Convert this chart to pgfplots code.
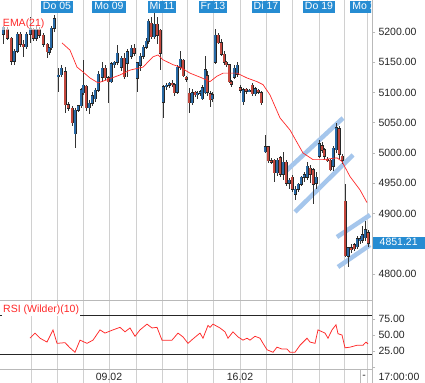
\documentclass[border=0pt]{standalone}
\usepackage{pgfplots}
\pgfplotsset{compat=1.18}
\usepackage{pgfplotstable}
\usepackage{fontspec}
\setmainfont{Liberation Sans}
\definecolor{gridc}{RGB}{208,208,208}
\definecolor{borderc}{RGB}{185,185,185}
\definecolor{lblue}{RGB}{38,140,210}
\definecolor{upc}{RGB}{40,105,165}
\definecolor{dnc}{RGB}{195,72,62}
\definecolor{chan}{RGB}{165,198,236}
\definecolor{emac}{RGB}{255,40,40}

\pgfplotstableread{
x o h l c
3 5196 5210 5180 5208
7 5205 5208 5186 5190
11 5190 5192 5145 5152
14 5152 5172 5145 5168
17 5168 5200 5165 5196
20 5196 5200 5175 5180
23 5180 5186 5158 5176
26 5176 5200 5172 5196
30 5196 5225 5182 5205
33 5205 5207 5185 5190
36 5190 5210 5186 5205
39 5205 5208 5190 5195
43 5195 5198 5175 5180
47 5180 5182 5157 5167
49 5167 5176 5162 5174
51 5174 5210 5170 5206
54 5206 5228 5200 5222
58 5127 5140 5100 5129
61 5129 5145 5125 5140
65 5134 5142 5066 5080
68 5080 5085 5070 5074
72 5074 5078 5045 5050
75 5032 5075 5009 5071
78 5071 5080 5068 5078
81 5078 5108 5075 5105
83 5100 5153 5096 5112
86 5110 5113 5070 5075
89 5075 5088 5065 5082
92 5082 5100 5078 5095
95 5090 5108 5085 5104
98 5104 5135 5100 5130
102 5125 5150 5118 5140
105 5140 5145 5120 5124
108 5124 5128 5083 5118
111 5118 5150 5115 5148
114 5146 5152 5140 5150
117 5150 5178 5145 5165
121 5142 5160 5135 5157
124 5157 5165 5122 5126
127 5148 5172 5126 5167
131 5160 5178 5155 5173
134 5173 5180 5160 5165
137 5124 5150 5100 5149
140 5145 5165 5135 5160
143 5160 5178 5155 5175
146 5175 5190 5172 5185
148 5185 5222 5180 5218
151 5215 5225 5188 5192
154 5192 5240 5188 5213
157 5213 5225 5180 5195
160 5203 5205 5137 5165
163 5084 5112 5058 5110
166 5110 5115 5105 5112
169 5112 5118 5108 5115
172 5115 5120 5110 5113
174 5113 5116 5095 5100
177 5100 5145 5098 5142
180 5142 5168 5138 5155
183 5153 5156 5125 5128
186 5125 5128 5118 5122
189 5099 5108 5066 5083
192 5083 5105 5080 5100
195 5100 5103 5092 5096
197 5096 5102 5090 5099
200 5099 5104 5094 5101
202 5090 5112 5088 5108
205 5100 5160 5098 5138
207 5128 5135 5095 5100
210 5098 5102 5076 5088
212 5090 5100 5085 5096
215 5150 5205 5148 5195
218 5195 5198 5180 5182
221 5182 5188 5160 5163
224 5163 5168 5145 5150
226 5150 5152 5142 5146
229 5146 5148 5115 5118
231 5118 5120 5110 5114
234 5125 5145 5122 5140
237 5130 5150 5125 5145
240 5108 5112 5100 5104
243 5085 5108 5080 5105
246 5105 5108 5098 5102
249 5102 5106 5100 5104
252 5112 5115 5095 5098
255 5098 5110 5095 5106
258 5104 5106 5098 5100
261 5100 5102 5080 5083
265 5002 5030 5000 5010
268 5010 5012 4984 4987
271 4987 4992 4982 4985
274 4988 4990 4952 4967
277 4967 4992 4962 4988
280 4992 4995 4960 4965
283 4965 5002 4956 4985
286 4985 4988 4945 4950
289 4950 4958 4940 4955
292 4960 4963 4935 4940
295 4932 4945 4922 4940
298 4940 4950 4935 4948
301 4948 4962 4945 4960
304 4960 4968 4952 4964
307 4960 4985 4955 4978
310 4975 4980 4950 4965
313 4972 4975 4915 4948
316 4950 4968 4940 4960
319 4995 5022 4992 5015
322 5012 5018 5000 5005
324 5005 5008 4990 4995
327 4990 4993 4985 4988
330 4988 4990 4970 4972
333 4978 5012 4970 5008
336 5005 5050 5000 5042
339 5040 5045 4990 4998
342 4995 4998 4982 4988
345 4920 4948 4828 4830
348 4829 4845 4812 4843
351 4843 4850 4835 4840
354 4848 4852 4838 4842
357 4845 4862 4842 4858
360 4855 4862 4850 4858
362 4856 4880 4852 4865
365 4860 4887 4855 4873
368 4868 4872 4845 4851
}\candles

\pgfplotstableread{
x r
30 45
35 53
40 45
47 39
53 58
57 37
65 38
70 30
75 23
80 42
87 37
93 42
100 58
105 53
113 58
120 62
125 55
130 61
135 48
140 58
147 67
152 61
157 62
162 42
172 42
178 53
183 47
188 37
193 44
200 53
203 45
208 65
210 62
213 67
220 61
225 55
228 45
233 55
238 47
243 42
247 45
250 42
255 48
260 45
263 37
267 27
273 23
277 31
282 28
287 28
290 23
295 23
300 34
307 45
310 39
315 37
318 58
325 53
328 45
332 58
336 66
338 52
342 50
345 30
350 31
357 34
363 34
366 39
368 36
}\rsi

\begin{document}
\begin{tikzpicture}[x=1bp,y=1bp,font=\fontsize{10.5bp}{12bp}\selectfont]
\path[use as bounding box] (0bp,0bp) rectangle (425bp,383bp);
\fill[white] (0bp,0bp) rectangle (425bp,383bp);
\foreach \g in {31,57,83,109,136,162,187,213,240,266,292,319,344,367}
  \draw[gridc, line width=0.8bp] (\g bp,0bp) -- (\g bp,14bp);

\pgfplotsset{
  panel/.style={
    anchor=south west, scale only axis, width=372bp,
    xmin=0, xmax=372,
    axis line style={draw=none},
    xtick={31,57,83,109,136,162,187,213,240,266,292,319,344,367},
    major x tick style={draw=none},
    xmajorgrids, grid style={gridc, line width=0.8bp},
    ytick pos=right, yticklabel pos=right,
    tick align=outside, major tick length=3bp,
    major y tick style={borderc, line width=0.8bp},
    tick label style={font=\fontsize{10.5bp}{12bp}\selectfont, text=black!85},
    clip mode=individual,
  },
  ebar/.style={draw=none, mark=none, forget plot,
    /pgfplots/error bars/y dir=both,
    /pgfplots/error bars/y explicit,
    /pgfplots/error bars/error mark=none,
    /pgfplots/error bars/error bar style={#1, solid}},
}

% ---------- main price panel ----------
\begin{axis}[panel, at={(0bp,83bp)}, height=300bp,
  ymin=4757, ymax=5252.9,
  xticklabels={},
  ytick={4800,4900,4950,5000,5050,5100,5150,5200},
  yticklabel style={/pgf/number format/.cd, fixed, fixed zerofill, precision=2, 1000 sep={}, assume math mode=true},
]
\addplot[chan, line width=4.5bp, forget plot] coordinates {(285,4968.6) (343,5057.8)};
\addplot[chan, line width=4.5bp, forget plot] coordinates {(295,4902.5) (353,4996.7)};
\addplot[chan, line width=4.5bp, forget plot] coordinates {(337,4861.1) (370,4897.5)};
\addplot[chan, line width=4.5bp, forget plot] coordinates {(338,4811.6) (370,4847.9)};

\addplot[ebar={draw=black!80, line width=0.7bp}]
  table[x=x, y expr={(\thisrow{h}+\thisrow{l})/2}, y error expr={(\thisrow{h}-\thisrow{l})/2}] {\candles};
\addplot[ebar={draw=black!85, line width=3.0bp}]
  table[x=x, y expr={(\thisrow{o}+\thisrow{c})/2}, y error expr={abs(\thisrow{c}-\thisrow{o})/2+0.8}] {\candles};
\addplot[restrict expr to domain={\thisrow{c}-\thisrow{o}}{0:1000}, ebar={draw=upc, line width=2.0bp}]
  table[x=x, y expr={(\thisrow{o}+\thisrow{c})/2}, y error expr={abs(\thisrow{c}-\thisrow{o})/2}] {\candles};
\addplot[restrict expr to domain={\thisrow{o}-\thisrow{c}}{0.001:1000}, ebar={draw=dnc, line width=2.0bp}]
  table[x=x, y expr={(\thisrow{o}+\thisrow{c})/2}, y error expr={abs(\thisrow{c}-\thisrow{o})/2}] {\candles};

\addplot[emac, line width=0.7bp, mark=none] coordinates {
(62,5182) (70,5170) (77,5142) (83,5134) (90,5124) (98,5116) (107,5121)
(120,5129) (130,5137) (143,5142) (153,5159) (158,5162) (163,5154)
(173,5146) (180,5142) (190,5132) (202,5124) (210,5118) (217,5127)
(223,5132) (237,5132) (247,5124) (257,5118) (263,5113) (270,5096)
(280,5058) (290,5038) (303,5000) (313,4989) (323,4989) (337,4992)
(342,4986) (350,4961) (360,4939) (367,4918)};

\node[anchor=west, text=emac, fill=white, fill opacity=0.6, text opacity=1, inner sep=0.8bp]
  at (axis cs:2,5213) {EMA(21)};
\node[anchor=west, fill=lblue, text=white, inner xsep=4bp, inner ysep=1bp,
  minimum width=53bp, text height=7.5bp, text depth=2.5bp]
  at (axis cs:372,4851.21) {4851.21};
\end{axis}

% ---------- RSI panel ----------
\begin{axis}[panel, at={(0bp,14bp)}, height=69bp,
  ymin=-3.1, ymax=104.7,
  xticklabels={,,,09.02,,,,,16.02,,,,,},
  xticklabel style={text=black!85, yshift=2.5bp},
  ytick={0,25,50,75},
  yticklabels={,25.00,50.00,75.00},
]
\addplot[black!85, line width=0.9bp, mark=none] coordinates {(0,80) (372,80)};
\addplot[black!85, line width=0.9bp, mark=none] coordinates {(0,20) (372,20)};
\addplot[emac, line width=0.75bp, mark=none] table[x=x, y=r] {\rsi};
\node[anchor=west, text=emac, fill=white, inner sep=1bp] at (axis cs:2,89) {RSI (Wilder)(10)};
\end{axis}

% borders
\draw[borderc, line width=0.8bp] (0bp,83bp) -- (372bp,83bp);
\draw[borderc, line width=0.8bp] (0bp,14bp) -- (372bp,14bp);
\draw[borderc, line width=0.8bp] (372bp,0bp) -- (372bp,383bp);
\draw[borderc, line width=0.8bp] (360bp,0bp) -- (360bp,14bp);

% day labels
\tikzset{daylab/.style={fill=lblue, text=white, inner xsep=2bp, inner ysep=0.8bp, text height=7.5bp, text depth=2bp, anchor=center}}
\node[daylab] at (57bp,376bp) {Do 05};
\node[daylab] at (109bp,376bp) {Mo 09};
\node[daylab] at (162bp,376bp) {Mi 11};
\node[daylab] at (213bp,376bp) {Fr 13};
\node[daylab] at (266bp,376bp) {Di 17};
\node[daylab] at (319bp,376bp) {Do 19};
\begin{scope}
\clip (0bp,0bp) rectangle (371bp,383bp);
\node[daylab] at (367bp,376bp) {Mo 23};
\end{scope}

\node[text=black!85] at (364bp,6bp) {-};
\node[text=black!85, anchor=west] at (375bp,6bp) {17:00:00};
\end{tikzpicture}
\end{document}
